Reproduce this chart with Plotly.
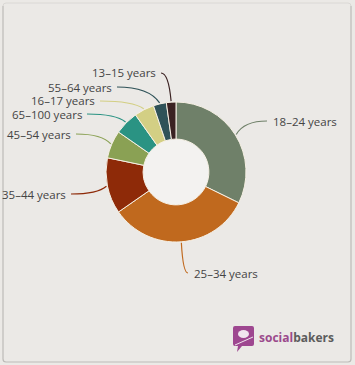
import math
import plotly.graph_objects as go

# ---- data ----
labels = ["18–24 years", "25–34 years", "35–44 years", "45–54 years",
          "65–100 years", "16–17 years", "55–64 years", "13–15 years"]
values = [32.2, 33.0, 12.9, 6.4, 5.5, 4.6, 3.0, 2.2]
colors = ["#6f8069", "#c0691e", "#8e2a08", "#8aa154",
          "#2a9383", "#d3cf84", "#2f5258", "#3b2222"]
# label text positions (pixels): (x, y, side)
label_pos = [(272, 121, "left"), (193, 273, "left"), (67, 194, "right"),
             (72, 134, "right"), (83, 114, "right"), (96, 101, "right"),
             (113, 87, "right"), (157, 73, "right")]

W, H = 355, 365
CX, CY, R = 176, 172, 70
HOLE = 0.47


def px(x):
    return x / W


def py(y):
    return 1 - y / H


fig = go.Figure()
fig.add_trace(go.Pie(
    labels=labels, values=values, sort=False, direction="clockwise",
    rotation=0, hole=HOLE, textinfo="none", hoverinfo="label+percent",
    marker=dict(colors=colors, line=dict(color="#f6f0e4", width=1)),
    domain=dict(x=[px(CX - R), px(CX + R)], y=[py(CY + R), py(CY - R)]),
    showlegend=False,
))

shapes = []
annotations = []

# lighter hole background
rh = R * HOLE + 1
shapes.append(dict(type="circle", xref="paper", yref="paper", layer="below",
                   x0=px(CX - rh), x1=px(CX + rh), y0=py(CY + rh), y1=py(CY - rh),
                   fillcolor="#f3f2f0", line=dict(width=0)))

total = sum(values)
cum = 0.0
for lab, v, col, (lx, ly, side) in zip(labels, values, colors, label_pos):
    mid = (cum + v / 2) / total * 2 * math.pi
    cum += v
    ax = CX + (R + 1) * math.sin(mid)
    ay = CY - (R + 1) * math.cos(mid)
    if side == "right":
        sx, sy = lx + 4, ly
    else:
        sx, sy = lx - 5, ly
    cx = ax * 0.75 + sx * 0.25
    cy = sy
    path = (f"M {px(ax):.5f},{py(ay):.5f} Q {px(cx):.5f},{py(cy):.5f} "
            f"{px(sx):.5f},{py(sy):.5f}")
    shapes.append(dict(type="path", path=path, xref="paper", yref="paper",
                       line=dict(color=col, width=1.2)))
    annotations.append(dict(
        text=lab, x=px(lx), y=py(ly), xref="paper", yref="paper",
        xanchor=side, yanchor="middle", showarrow=False, borderpad=0,
        font=dict(family="Open Sans", size=11.5, color="#444444")))

# frame
shapes.append(dict(type="path", xref="paper", yref="paper",
                   path=(f"M {px(3)},{py(6)} L {px(3)},{py(359)} Q {px(3)},{py(362)} {px(6)},{py(362)} "
                         f"L {px(348)},{py(362)} Q {px(351)},{py(362)} {px(351)},{py(359)} "
                         f"L {px(351)},{py(6)}"),
                   line=dict(color="#bdbbb8", width=1.2)))
shapes.append(dict(type="path", xref="paper", yref="paper",
                   path=(f"M {px(3)},{py(6)} Q {px(3)},{py(3)} {px(6)},{py(3)} "
                         f"L {px(348)},{py(3)} Q {px(351)},{py(3)} {px(351)},{py(6)}"),
                   line=dict(color="#dad8d5", width=1)))

# logo icon
shapes.append(dict(type="path", xref="paper", yref="paper",
                   path=(f"M {px(235)},{py(326)} L {px(252)},{py(326)} Q {px(254)},{py(326)} {px(254)},{py(328)} "
                         f"L {px(254)},{py(344)} Q {px(254)},{py(346)} {px(252)},{py(346)} "
                         f"L {px(242)},{py(346)} L {px(237)},{py(352)} L {px(238)},{py(346)} "
                         f"L {px(235)},{py(346)} Q {px(233)},{py(346)} {px(233)},{py(344)} "
                         f"L {px(233)},{py(328)} Q {px(233)},{py(326)} {px(235)},{py(326)} Z"),
                   fillcolor="#9e4790", line=dict(width=0)))
shapes.append(dict(type="circle", xref="paper", yref="paper",
                   x0=px(238), x1=px(249), y0=py(338), y1=py(330),
                   fillcolor="#f1e6ef", line=dict(width=0)))
shapes.append(dict(type="line", xref="paper", yref="paper",
                   x0=px(235), y0=py(345), x1=px(253), y1=py(337),
                   line=dict(color="#f1e6ef", width=1)))

annotations.append(dict(
    text="<b><span style='color:#9b4a8c'>social</span><span style='color:#5c5c5c'>bakers</span></b>",
    x=px(258), y=py(337), xref="paper", yref="paper", xanchor="left",
    yanchor="middle", showarrow=False, borderpad=0,
    font=dict(family="Open Sans", size=12, color="#5c5c5c")))

fig.update_layout(
    width=W, height=H, margin=dict(l=0, r=0, t=0, b=0),
    paper_bgcolor="#ebe9e6", plot_bgcolor="#ebe9e6",
    shapes=shapes, annotations=annotations,
)
fig.write_html(
    "out.html",
    config={"displayModeBar": False},
    post_script="document.body.style.margin='0';document.body.style.overflow='hidden';"
                "document.documentElement.style.background='#ebe9e6';",
)
